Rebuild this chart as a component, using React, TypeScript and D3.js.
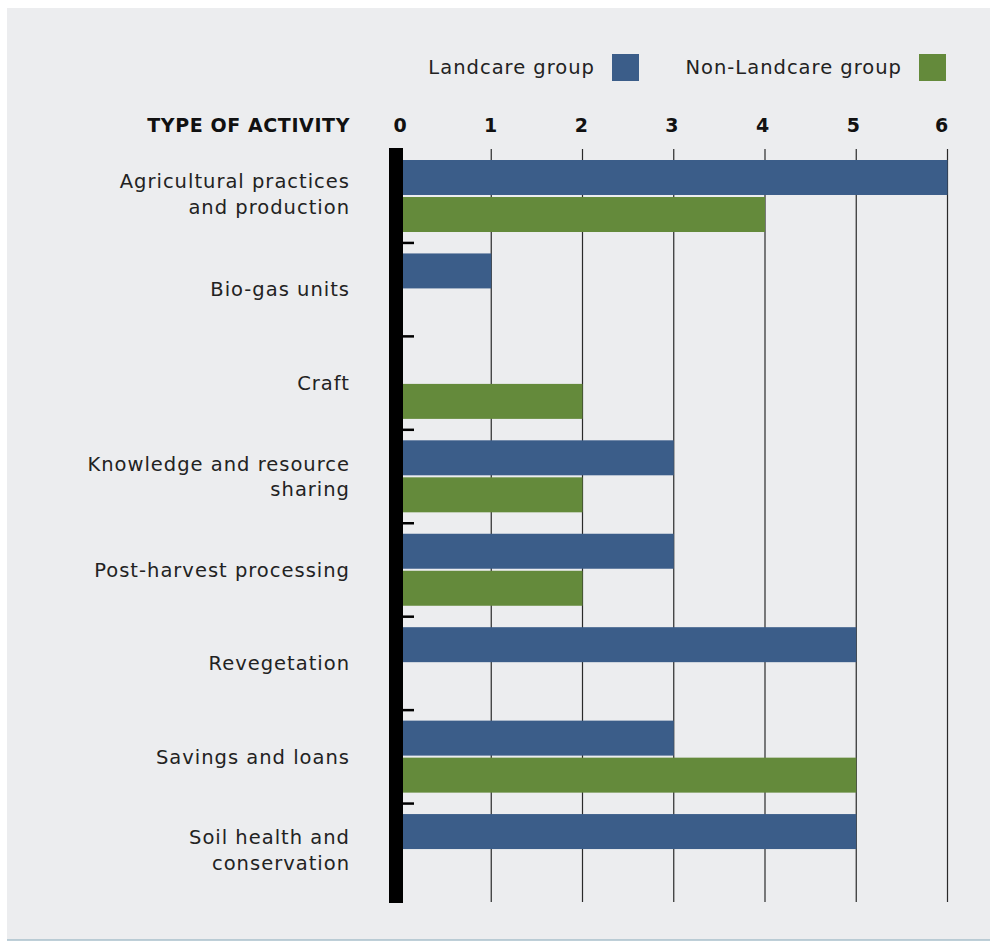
import React from "react";
import * as d3 from "d3";

const categories: string[][] = [
  ["Agricultural practices", "and production"],
  ["Bio-gas units"],
  ["Craft"],
  ["Knowledge and resource", "sharing"],
  ["Post-harvest processing"],
  ["Revegetation"],
  ["Savings and loans"],
  ["Soil health and", "conservation"],
];
const landcare = [6, 1, 0, 3, 3, 5, 3, 5];
const nonLandcare = [4, 0, 2, 2, 2, 0, 5, 0];
const seriesNames = ["Landcare group", "Non-Landcare group"];
const seriesColors = ["#3b5d89", "#648a3b"];
const xTicks = [0, 1, 2, 3, 4, 5, 6];
const axisTitle = "TYPE OF ACTIVITY";

const W = 990;
const H = 941;
const FONT = "'DejaVu Sans', sans-serif";
const FS = 19.5;
const LS = 1.0;

export default function App() {
  const x = d3.scaleLinear().domain([0, 6]).range([400, 947.5]);
  const keys = categories.map((c) => c.join(" "));
  const y = d3.scaleBand().domain(keys).range([149.5, 897]).padding(0);
  const bw = y.bandwidth();
  const sub = d3
    .scaleBand()
    .domain(seriesNames)
    .range([bw * 0.1124, bw * 0.883])
    .paddingInner(0.055);
  const series = [landcare, nonLandcare];

  return (
    <svg
      width={W}
      height={H}
      style={{ position: "absolute", left: 0, top: 0 }}
      fontFamily={FONT}
    >
      <rect x={0} y={0} width={W} height={H} fill="#ffffff" />
      <rect x={7} y={8} width={W - 7} height={932} fill="#ecedef" />
      <line x1={7} x2={W} y1={940} y2={940} stroke="#a9bfcb" strokeWidth={1.5} />

      {/* legend */}
      {seriesNames.map((s, i) => {
        const sqX = i === 0 ? 612 : 919;
        return (
          <g key={s}>
            <text
              x={sqX - 17}
              y={74}
              textAnchor="end"
              fontSize={FS}
              letterSpacing={LS}
              fill="#222"
            >
              {s}
            </text>
            <rect x={sqX} y={54} width={27} height={27} fill={seriesColors[i]} />
          </g>
        );
      })}

      {/* axis title and tick labels */}
      <text
        x={350}
        y={132}
        textAnchor="end"
        fontSize={19}
        fontWeight="bold"
        letterSpacing={0.6}
        fill="#111"
      >
        {axisTitle}
      </text>
      {xTicks.map((t) => (
        <text
          key={t}
          x={x(t) - (t === 6 ? 6 : t * 0.6)}
          y={132}
          textAnchor="middle"
          fontSize={19}
          fontWeight="bold"
          fill="#111"
        >
          {t}
        </text>
      ))}

      {/* gridlines */}
      {xTicks
        .filter((t) => t > 0)
        .map((t) => (
          <line
            key={t}
            x1={x(t)}
            x2={x(t)}
            y1={149}
            y2={902}
            stroke="#2a2a2a"
            strokeWidth={1.2}
          />
        ))}

      {/* bars */}
      {keys.map((k, ci) => (
        <g key={k} transform={`translate(0,${y(k)})`}>
          {series.map((vals, si) =>
            vals[ci] > 0 ? (
              <rect
                key={si}
                x={x(0)}
                y={sub(seriesNames[si])}
                width={x(vals[ci]) - x(0)}
                height={sub.bandwidth()}
                fill={seriesColors[si]}
              />
            ) : null
          )}
        </g>
      ))}

      {/* left axis bar */}
      <rect x={389} y={148} width={14} height={755} fill="#000" />
      {keys.slice(1).map((k) => (
        <line
          key={k}
          x1={403}
          x2={414}
          y1={y(k)}
          y2={y(k)}
          stroke="#000"
          strokeWidth={2.5}
        />
      ))}

      {/* category labels */}
      {categories.map((lines, ci) => {
        const cy = (y(keys[ci]) as number) + bw / 2;
        const lh = 25.5;
        const start = cy - ((lines.length - 1) * lh) / 2 - (ci === 0 ? 2 : 0);
        return (
          <text key={ci} textAnchor="end" fontSize={FS} letterSpacing={LS} fill="#222">
            {lines.map((ln, li) => (
              <tspan key={li} x={350} y={start + li * lh} dy="0.35em">
                {ln}
              </tspan>
            ))}
          </text>
        );
      })}
    </svg>
  );
}
